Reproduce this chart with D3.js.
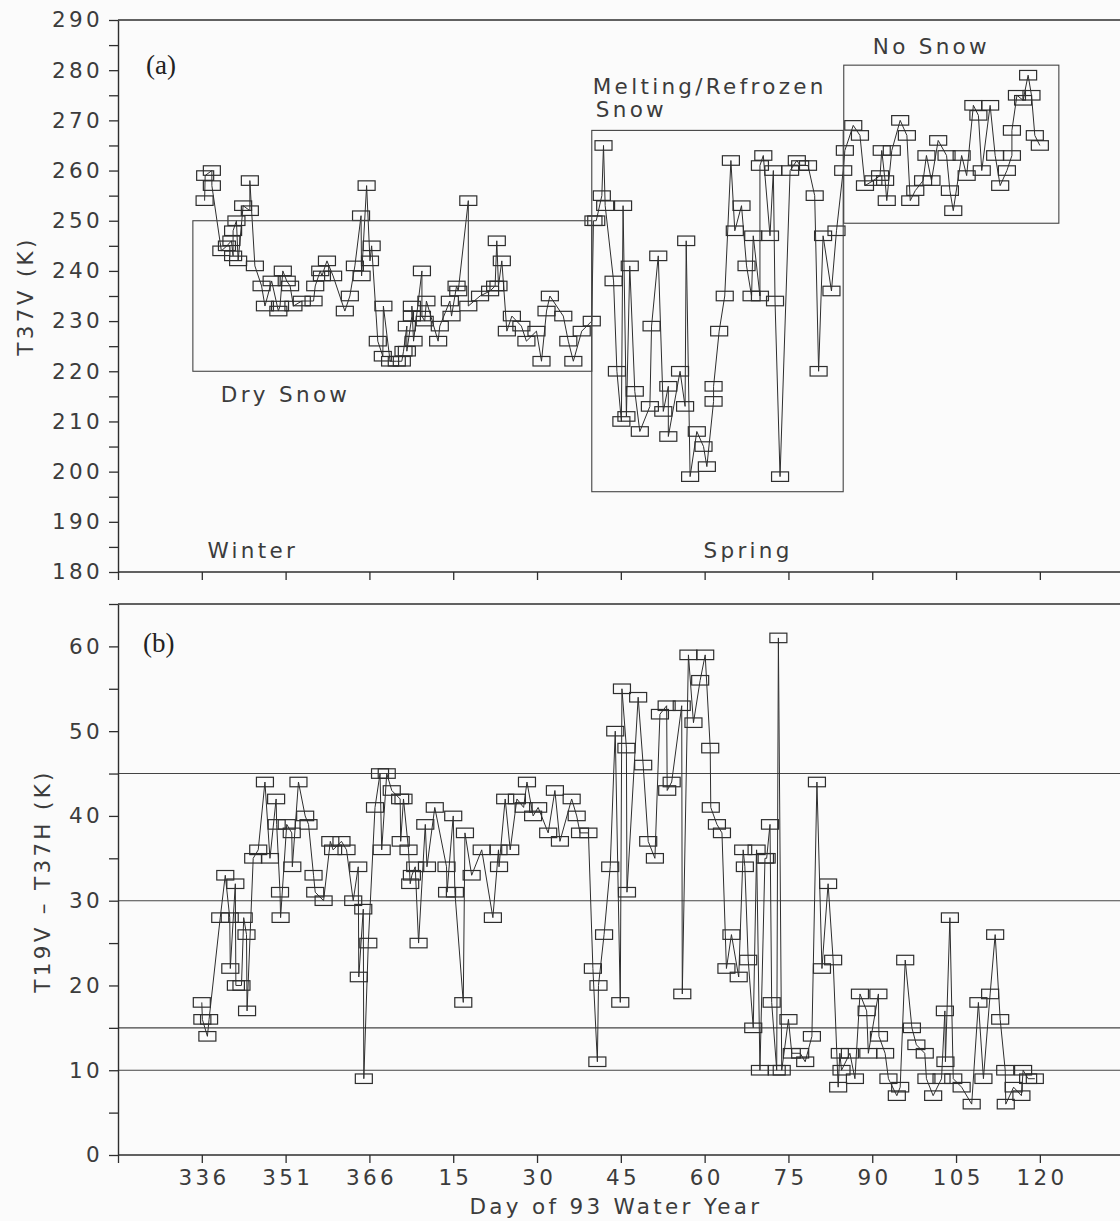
<!DOCTYPE html>
<html>
<head>
<meta charset="utf-8">
<script src="https://cdn.jsdelivr.net/npm/d3@7"></script>
<style>
  html, body { margin: 0; padding: 0; background: #fbfbfb; }
  svg { display: block; }
  .lbl { font-family: "DejaVu Sans", sans-serif; font-size: 21.5px; letter-spacing: 3.3px; fill: #3c3c3c; font-weight: 400; }
  .serif { font-family: "Liberation Serif", "Times New Roman", serif; font-size: 27px; fill: #222; }
</style>
</head>
<body>
<svg id="chart" width="1120" height="1221"></svg>
<script>
// Day axis runs continuously through the water year: 367 is day 1 of the new calendar year.
const tickDays   = [321, 336, 351, 366, 381, 396, 411, 426, 441, 456, 471, 486];
const tickLabels = ["", "336", "351", "366", "15", "30", "45", "60", "75", "90", "105", "120"];

// (a) 37 GHz vertically polarised brightness temperature, K
const daysT37V = [
  336.5,336.6,337.8,337.8,339.5,340.5,341.3,341.6,341.6,342.2,
  342.5,343.4,344.6,344.6,345.5,346.7,347.3,348.5,349.7,350.0,
  350.5,351.2,351.8,352.4,353.9,356.0,356.3,357.2,357.5,358.4,
  359.5,361.6,362.5,363.4,364.5,364.6,365.5,366.1,366.4,367.5,
  368.4,368.5,369.7,370.9,371.8,372.1,372.7,372.7,373.6,373.6,
  373.9,375.4,375.4,375.9,376.2,378.3,378.6,380.4,380.7,381.6,
  381.9,383.7,383.7,385.8,387.6,388.5,388.8,389.1,389.7,390.6,
  391.5,393.2,394.1,395.9,396.8,397.7,398.3,400.7,401.6,402.5,
  404.0,405.8,406.1,406.6,407.6,407.9,408.2,409.7,410.3,411.1,
  411.4,412.0,412.6,413.5,414.4,416.2,416.5,417.7,418.6,419.5,
  419.5,421.6,422.5,422.7,423.4,424.6,425.8,426.4,427.6,427.6,
  428.6,429.6,430.7,431.4,432.6,433.5,434.4,434.7,435.9,435.9,
  436.5,437.7,438.3,438.6,439.5,441.3,442.5,443.1,444.5,445.7,
  446.4,447.2,448.7,449.6,450.8,451.1,452.6,453.8,454.7,456.2,
  457.4,457.7,458.3,458.6,459.5,461.0,462.2,462.8,463.7,465.1,
  465.7,466.6,467.8,469.3,469.9,470.5,472.0,472.9,474.1,475.0,
  475.6,477.1,478.0,478.9,480.1,481.0,481.0,481.9,483.0,483.9,
  484.5,485.1,486.0
];
const t37v = [
  254,259,260,257,244,245,246,243,248,250,
  242,253,252,258,241,237,233,238,232,233,
  240,238,237,233,234,234,237,240,239,242,
  239,232,235,241,251,239,257,242,245,226,
  223,233,222,222,222,224,229,224,231,233,
  226,240,231,230,234,226,229,234,231,237,
  236,254,233,235,236,237,246,237,242,228,
  231,229,226,228,222,232,235,231,226,222,
  228,230,250,250,255,265,253,238,220,210,
  253,211,241,216,208,213,229,243,212,217,
  207,220,213,246,199,208,205,201,214,217,
  228,235,262,248,253,241,235,247,235,261,
  263,247,260,234,199,260,262,261,261,255,
  220,247,236,248,260,264,269,267,257,258,
  259,264,258,254,264,270,267,254,256,258,
  263,258,266,263,256,252,263,259,273,271,
  260,273,263,257,260,263,268,275,274,279,
  275,267,265
];

// (b) polarisation / frequency difference T19V - T37H, K
const daysDiff = [
  336.0,336.1,337.0,337.3,339.3,340.2,341.0,341.1,342.0,342.1,
  343.1,343.5,344.0,344.1,345.2,346.1,347.3,348.2,349.3,349.4,
  350.0,350.1,351.2,352.1,352.2,353.3,354.5,355.1,356.0,356.3,
  357.8,359.0,359.5,361.0,361.9,363.1,364.0,364.1,364.9,365.0,
  365.8,367.0,367.9,368.2,369.1,370.0,371.5,371.6,372.1,373.0,
  373.3,373.6,374.2,374.8,376.0,376.3,377.7,379.8,379.9,381.0,
  381.3,382.8,383.1,384.3,386.1,388.1,389.1,389.2,390.3,391.2,
  392.4,393.6,394.2,395.3,396.2,398.0,399.2,400.1,402.2,403.1,
  403.7,405.2,406.0,406.8,407.0,408.0,409.1,410.0,410.9,411.2,
  412.0,412.1,414.1,415.0,415.9,417.1,418.0,419.2,419.3,420.1,
  421.9,422.0,423.1,424.0,425.2,426.1,427.0,427.1,428.2,429.1,
  429.9,430.8,432.1,432.9,433.2,433.8,434.7,435.3,435.9,436.8,
  437.1,437.7,438.0,438.9,439.2,439.8,441.0,441.6,443.1,444.0,
  445.2,446.1,447.0,448.1,449.0,449.9,450.2,450.5,452.0,452.9,
  453.8,455.0,455.3,457.1,457.2,458.3,458.9,460.4,461.0,461.9,
  463.1,463.9,465.4,465.7,466.9,468.4,469.0,469.1,469.9,470.5,
  472.0,473.8,475.0,475.9,477.1,478.0,478.9,479.8,479.9,481.3,
  482.7,483.0,483.9,485.1
];
const diff = [
  18,16,14,16,28,33,28,22,32,20,
  20,28,26,17,35,36,44,35,42,39,
  31,28,39,38,34,44,40,39,33,31,
  30,37,36,37,36,30,34,21,29,9,
  25,41,45,36,45,43,42,37,42,36,
  32,33,34,25,39,34,41,34,31,40,
  31,18,38,33,36,28,36,34,42,36,
  42,41,44,40,41,38,43,37,42,40,
  38,38,22,11,20,26,34,50,18,55,
  48,31,54,46,37,35,52,53,43,44,
  53,19,59,51,56,59,48,41,39,38,
  22,26,21,36,34,23,15,36,10,35,
  35,39,18,10,61,10,16,12,12,11,
  14,44,22,32,23,8,12,10,12,9,
  19,17,12,19,14,12,9,7,8,23,
  15,13,12,9,7,9,17,11,28,9,
  8,6,18,9,19,26,16,10,6,8,
  7,10,9,9
];

// Snow-state regions outlined in (a): day span and temperature span
const regionNames = ["Dry Snow", "Melting/Refrozen Snow", "No Snow"];
const regionStart = [334.4, 405.8, 450.9];
const regionEnd   = [405.8, 450.8, 489.4];
const regionLow   = [220, 196, 249.5];
const regionHigh  = [250, 268, 281];

// Season annotations in (a)
const seasonNames = ["Winter", "Spring"];
const seasonDays  = [337, 425.8];

// Threshold levels drawn across (b)
const thresholdLevels = [45, 30, 15, 10];

const svg = d3.select("#chart");
const ink = "#2e2e2e";

const left = 118, pxPerDay = 5.587;
const x = d3.scaleLinear().domain([321, 501]).range([left, left + 180 * pxPerDay]);
const xRight = 1120;

const yA = d3.scaleLinear().domain([180, 290]).range([572, 20]);
const yB = d3.scaleLinear().domain([0, 65]).range([1155, 604]);

function styleAxis(g) {
  g.select(".domain").attr("stroke", ink).attr("stroke-width", 1.4);
  g.selectAll(".tick line").attr("stroke", ink).attr("stroke-width", 1.3);
  g.selectAll(".tick text").attr("class", "lbl");
}

function drawPanel(y, domain, days, vals, xLabels) {
  // frame top
  svg.append("line")
    .attr("x1", left).attr("x2", xRight)
    .attr("y1", y(domain[1])).attr("y2", y(domain[1]))
    .attr("stroke", ink).attr("stroke-width", 1.3);

  const yAxis = svg.append("g")
    .attr("transform", `translate(${left},0)`)
    .call(d3.axisLeft(y)
      .tickValues(d3.range(domain[0], domain[1] + 0.1, 5))
      .tickSize(9).tickSizeOuter(0).tickPadding(6)
      .tickFormat(d => d % 10 === 0 ? d : ""));
  styleAxis(yAxis);

  const xAxis = svg.append("g")
    .attr("transform", `translate(0,${y(domain[0])})`)
    .call(d3.axisBottom(x)
      .tickValues(tickDays)
      .tickSize(8).tickSizeOuter(0).tickPadding(7)
      .tickFormat((d, i) => xLabels ? tickLabels[i] : ""));
  styleAxis(xAxis);
  xAxis.select(".domain").attr("d", `M${left},0H${xRight}`);
  xAxis.selectAll(".tick text").attr("dx", "1.65");

  const pts = days.map((d, i) => [d, vals[i]]);
  svg.append("path")
    .datum(pts)
    .attr("fill", "none")
    .attr("stroke", ink)
    .attr("stroke-width", 1)
    .attr("d", d3.line().x(d => x(d[0])).y(d => y(d[1])));

  const mw = 17, mh = 9.5;
  svg.append("g").selectAll("rect")
    .data(pts)
    .join("rect")
    .attr("x", d => x(d[0]) - mw / 2)
    .attr("y", d => y(d[1]) - mh / 2)
    .attr("width", mw).attr("height", mh)
    .attr("fill", "none")
    .attr("stroke", ink)
    .attr("stroke-width", 1.2);
}

// ---- panel (a)
drawPanel(yA, [180, 290], daysT37V, t37v, false);

svg.append("g").selectAll("rect")
  .data(regionNames)
  .join("rect")
  .attr("x", (d, i) => x(regionStart[i]))
  .attr("y", (d, i) => yA(regionHigh[i]))
  .attr("width", (d, i) => x(regionEnd[i]) - x(regionStart[i]))
  .attr("height", (d, i) => yA(regionLow[i]) - yA(regionHigh[i]))
  .attr("fill", "none")
  .attr("stroke", "#444")
  .attr("stroke-width", 1.1);

// region captions
svg.append("text").attr("class", "lbl")
  .attr("x", x(regionStart[0]) + 28).attr("y", yA(regionLow[0]) + 31)
  .text(regionNames[0]);
const melt = svg.append("text").attr("class", "lbl")
  .attr("x", x(regionStart[1]) + 1).attr("y", yA(regionHigh[1]) - 36);
melt.append("tspan").text("Melting/Refrozen");
melt.append("tspan").attr("x", x(regionStart[1]) + 4).attr("dy", 23).text("Snow");
svg.append("text").attr("class", "lbl")
  .attr("x", x(regionStart[2]) + 29).attr("y", yA(regionHigh[2]) - 11)
  .text(regionNames[2]);

svg.append("g").selectAll("text")
  .data(seasonNames)
  .join("text")
  .attr("class", "lbl")
  .attr("x", (d, i) => x(seasonDays[i]))
  .attr("y", yA(180) - 14)
  .text(d => d);

svg.append("text").attr("class", "serif").attr("x", 146).attr("y", 74).text("(a)");

svg.append("text").attr("class", "lbl")
  .attr("transform", `translate(33,296) rotate(-90)`)
  .attr("text-anchor", "middle")
  .text("T37V (K)");

// ---- panel (b)
svg.append("g").selectAll("line")
  .data(thresholdLevels)
  .join("line")
  .attr("x1", left).attr("x2", xRight)
  .attr("y1", d => yB(d)).attr("y2", d => yB(d))
  .attr("stroke", "#444").attr("stroke-width", 1.1);

drawPanel(yB, [0, 65], daysDiff, diff, true);

svg.append("text").attr("class", "serif").attr("x", 143).attr("y", 652).text("(b)");

svg.append("text").attr("class", "lbl")
  .attr("transform", `translate(50,881) rotate(-90)`)
  .attr("text-anchor", "middle")
  .text("T19V \u2013 T37H  (K)");

svg.append("text").attr("class", "lbl")
  .attr("x", 616).attr("y", 1214)
  .attr("text-anchor", "middle")
  .text("Day of 93 Water Year");
</script>
</body>
</html>
